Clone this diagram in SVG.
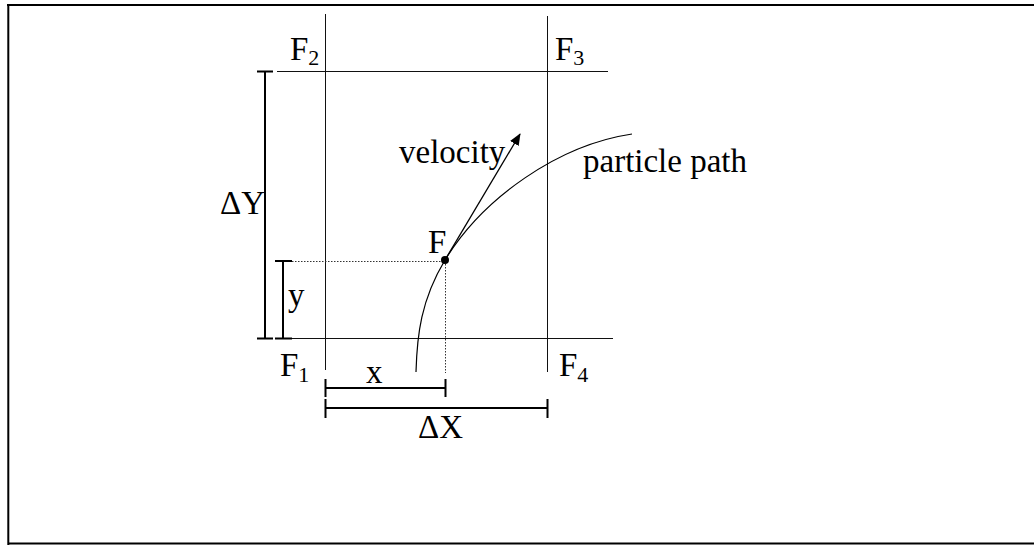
<svg xmlns="http://www.w3.org/2000/svg" width="1034" height="545" viewBox="0 0 1034 545">
<style>
text{font-family:"Liberation Serif","Times New Roman",serif;fill:#000}
.lbl{font-size:33px}
.sub{font-size:22px}
.grid{stroke:#111;stroke-width:1;fill:none}
.br{stroke:#000;stroke-width:2;fill:none}
.dot{stroke:#333;stroke-width:1;stroke-dasharray:1.5 1.5;fill:none}
.border{stroke:#000;stroke-width:2;fill:none}
</style>
<defs>
<marker id="arr" markerWidth="12" markerHeight="10" refX="11" refY="5" orient="auto" markerUnits="userSpaceOnUse">
<path d="M0,0 L12,5 L0,10 Z" fill="#000"/>
</marker>
</defs>
<rect width="1034" height="545" fill="#fff"/>
<g id="border">
<path class="border" d="M7,5 H1034 M8.3,5 V545 M8,543.5 H1034"/>
</g>
<g id="grid">
<line class="grid" x1="325.5" y1="14" x2="325.5" y2="370"/>
<line class="grid" x1="547.5" y1="16" x2="547.5" y2="372"/>
<line class="grid" x1="277" y1="71.5" x2="608" y2="71.5"/>
<line class="grid" x1="277" y1="338.5" x2="613" y2="338.5"/>
</g>
<g id="connectors">
<path class="br" d="M265,71 V339 M257,71.5 H273 M257,338.5 H273"/>
<path class="br" d="M283,261 V339 M275,261 H292 M275,338.5 H292"/>
<path class="br" d="M325,388 H445 M325.5,379 V397 M445.5,379 V397"/>
<path class="br" d="M325,408 H547 M325.5,399 V418 M547.5,399 V418"/>
<path class="dot" d="M292,261.5 H445 M445.5,261 V373"/>
<path id="particle-path" d="M416,372 C417,335 421,300 445,260 C483,198 558,145 632,134" stroke="#000" stroke-width="1.2" fill="none"/>
<line id="velocity" x1="445" y1="260" x2="520" y2="134" stroke="#000" stroke-width="1.3" marker-end="url(#arr)"/>
</g>
<g id="point-F">
<circle cx="445" cy="260" r="4" fill="#000"/>
<text class="lbl" x="428" y="253">F</text>
</g>
<g id="F1"><text class="lbl" x="280" y="376">F<tspan class="sub" dy="6">1</tspan></text></g>
<g id="F2"><text class="lbl" x="290" y="60">F<tspan class="sub" dy="5">2</tspan></text></g>
<g id="F3"><text class="lbl" x="555" y="60">F<tspan class="sub" dy="5">3</tspan></text></g>
<g id="F4"><text class="lbl" x="559" y="376">F<tspan class="sub" dy="6">4</tspan></text></g>
<g id="labels">
<text class="lbl" x="399" y="163">velocity</text>
<text class="lbl" x="583" y="172">particle path</text>
<text class="lbl" x="220" y="214">ΔY</text>
<text class="lbl" x="288" y="306">y</text>
<text class="lbl" x="366" y="383">x</text>
<text class="lbl" x="418" y="438">ΔX</text>
</g>
</svg>
